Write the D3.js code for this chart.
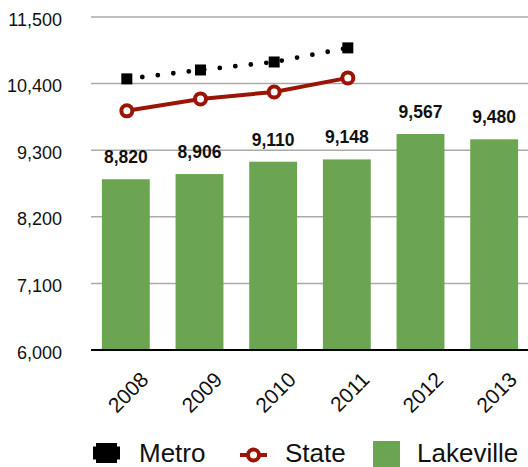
<!DOCTYPE html>
<html><head><meta charset="utf-8">
<script src="https://cdn.jsdelivr.net/npm/d3@7"></script>
<style>body{margin:0;background:#fff}svg{display:block;font-family:"Liberation Sans",Arial,sans-serif}</style>
</head><body><svg id="c" width="528" height="467"></svg>
<script>
const years = ["2008","2009","2010","2011","2012","2013"];
const lakeville = [8820, 8906, 9110, 9148, 9567, 9480];
const metroYears = ["2008","2009","2010","2011"];
const metro = [10478, 10625, 10757, 10990];
const state = [9950, 10147, 10262, 10494];
const yTicks = [6000, 7100, 8200, 9300, 10400, 11500];

const svg = d3.select("#c");
const x = d3.scaleBand().domain(years).range([89, 531]).paddingInner(0.35).paddingOuter(0.175);
const y = d3.scaleLinear().domain([6000, 11500]).range([350, 17]);
const green = "#6ba552", red = "#9a1505";

// gridlines
svg.append("g").selectAll("line").data(yTicks.slice(1)).join("line")
  .attr("x1", 91).attr("x2", 528).attr("y1", d => y(d)).attr("y2", d => y(d))
  .attr("stroke", "#aaa").attr("stroke-width", 1.5);

// y labels
const fmt = d3.format(",");
svg.append("g").selectAll("text").data(yTicks).join("text")
  .attr("x", 62).attr("y", d => y(d) + 8.5).attr("text-anchor", "end")
  .attr("font-size", 18).attr("fill", "#111").text(d => fmt(d));

// bars
svg.append("g").selectAll("rect").data(lakeville).join("rect")
  .attr("x", (d, i) => x(years[i])).attr("width", x.bandwidth())
  .attr("y", d => y(d)).attr("height", d => y(6000) - y(d)).attr("fill", green);

// bar labels
svg.append("g").selectAll("text").data(lakeville).join("text")
  .attr("x", (d, i) => x(years[i]) + x.bandwidth() / 2).attr("y", d => y(d) - 16)
  .attr("text-anchor", "middle").attr("font-size", 17.5).attr("font-weight", "bold")
  .attr("fill", "#111").text(d => fmt(d));

// axis line
svg.append("line").attr("x1", 91).attr("x2", 528).attr("y1", 350).attr("y2", 350)
  .attr("stroke", "#000").attr("stroke-width", 2);

// x labels
svg.append("g").selectAll("text").data(years).join("text")
  .attr("transform", d => `translate(${x(d) + x.bandwidth() / 2 + 24},${381}) rotate(-45)`)
  .attr("text-anchor", "end").attr("font-size", 21).attr("fill", "#111").text(d => d);

const cx = (d, i) => x(metroYears[i]) + x.bandwidth() / 2 + 1;

// metro line
const lineM = d3.line().x((d, i) => cx(d, i)).y(d => y(d));
svg.append("path").attr("d", lineM(metro)).attr("fill", "none").attr("stroke", "#000")
  .attr("stroke-width", 4.8).attr("stroke-linecap", "round").attr("stroke-dasharray", "0,15.6");
svg.append("g").selectAll("rect").data(metro).join("rect")
  .attr("x", (d, i) => cx(d, i) - 5.5).attr("y", d => y(d) - 5.5)
  .attr("width", 11).attr("height", 11).attr("fill", "#000");

// state line
svg.append("path").attr("d", lineM(state)).attr("fill", "none").attr("stroke", red).attr("stroke-width", 4);
svg.append("g").selectAll("circle").data(state).join("circle")
  .attr("cx", (d, i) => cx(d, i)).attr("cy", d => y(d)).attr("r", 5.5)
  .attr("fill", "#fff").attr("stroke", red).attr("stroke-width", 4);

// legend
const lg = svg.append("g");
lg.append("line").attr("x1", 93).attr("x2", 120).attr("y1", 453).attr("y2", 453).attr("stroke", "#000").attr("stroke-width", 13);
lg.append("rect").attr("x", 96).attr("y", 443).attr("width", 21).attr("height", 20).attr("fill", "#000");
lg.append("text").attr("x", 139).attr("y", 462).attr("font-size", 26).attr("fill", "#111").text("Metro");
lg.append("line").attr("x1", 240).attr("x2", 267).attr("y1", 455).attr("y2", 455).attr("stroke", red).attr("stroke-width", 4);
lg.append("circle").attr("cx", 253.5).attr("cy", 455).attr("r", 5.5).attr("fill", "#fff").attr("stroke", red).attr("stroke-width", 4);
lg.append("text").attr("x", 285).attr("y", 462).attr("font-size", 26).attr("fill", "#111").text("State");
lg.append("rect").attr("x", 373).attr("y", 441).attr("width", 27).attr("height", 26).attr("fill", green);
lg.append("text").attr("x", 417).attr("y", 462).attr("font-size", 26).attr("fill", "#111").text("Lakeville");
</script></body></html>
